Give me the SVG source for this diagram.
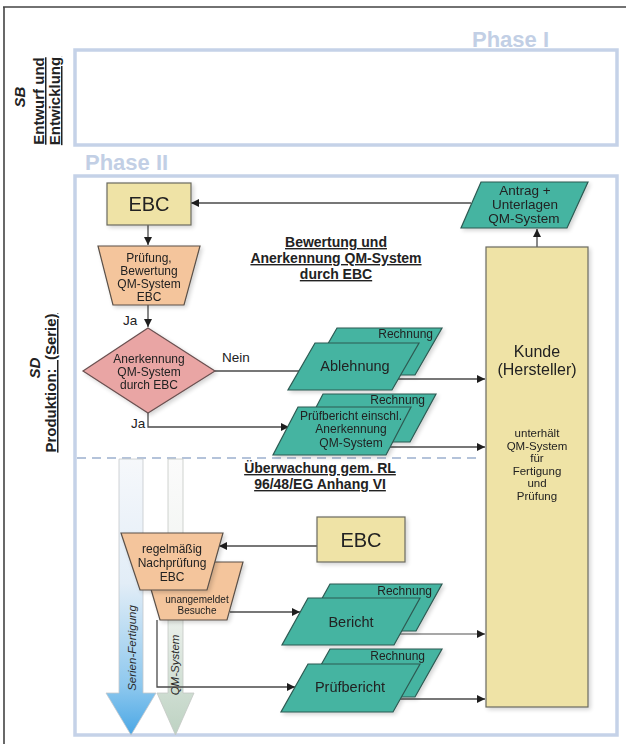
<svg xmlns="http://www.w3.org/2000/svg" width="626" height="744" viewBox="0 0 626 744">
  <style>
    text { font-family: "Liberation Sans", Arial, sans-serif; fill: #222; }
    .phase { font-size: 22px; font-weight: bold; fill: #c2cfe5; }
    .side { font-size: 15px; font-weight: bold; }
    .ul { text-decoration: underline; }
    .title { font-size: 14px; font-weight: bold; text-decoration: underline; text-anchor: middle; }
    .c { text-anchor: middle; }
    .t12 { font-size: 12px; }
    .t10 { font-size: 10px; }
    .lbl { font-size: 13.5px; }
    .big { font-size: 20px; text-anchor: middle; }
    .doc { font-size: 14.5px; text-anchor: middle; }
    .rech { font-size: 12px; text-anchor: end; }
    .frame { fill: none; stroke: #c5d2e8; stroke-width: 3.5; }
    .khaki { fill: #efe3a6; stroke: #6a6a60; stroke-width: 1.2; }
    .peach { fill: #f4c59c; stroke: #5a5048; stroke-width: 1.2; }
    .pink { fill: #e9a5a4; stroke: #6a5050; stroke-width: 1.2; }
    .teal { fill: #45b4a1; stroke: #2d5a52; stroke-width: 1.2; }
    .conn { fill: none; stroke: #4a4a4a; stroke-width: 1.3; }
    .conn-light { fill: none; stroke: #8a8a8a; stroke-width: 1.3; }
    .flow { font-size: 11.5px; font-style: italic; text-anchor: middle; fill: #2a2a2a; }
  </style>
  <defs>
    <marker id="arr" viewBox="0 0 10 10" refX="10" refY="5" markerWidth="8" markerHeight="8" markerUnits="userSpaceOnUse" orient="auto">
      <path d="M0,0 L10,5 L0,10 z" fill="#1e1e1e"/>
    </marker>
    <filter id="sh" x="-10%" y="-10%" width="130%" height="130%">
      <feGaussianBlur in="SourceAlpha" stdDeviation="2"/>
      <feOffset dx="2" dy="2"/>
      <feComponentTransfer><feFuncA type="linear" slope="0.18"/></feComponentTransfer>
      <feMerge><feMergeNode/><feMergeNode in="SourceGraphic"/></feMerge>
    </filter>
    <linearGradient id="gBlue" gradientUnits="userSpaceOnUse" x1="0" y1="459" x2="0" y2="735">
      <stop offset="0" stop-color="#f6f8fb"/>
      <stop offset="0.45" stop-color="#e2edf7"/>
      <stop offset="0.82" stop-color="#8ec8ee"/>
      <stop offset="1" stop-color="#4aa7e5"/>
    </linearGradient>
    <linearGradient id="gGreen" gradientUnits="userSpaceOnUse" x1="0" y1="459" x2="0" y2="735">
      <stop offset="0" stop-color="#fbfbfb"/>
      <stop offset="0.55" stop-color="#eef2ee"/>
      <stop offset="1" stop-color="#bdd2c2"/>
    </linearGradient>
  </defs>

  <rect width="626" height="744" fill="#ffffff"/>

  <!-- page frame -->
  <path d="M3,7 H626 M4,7 V744" fill="none" stroke="#444" stroke-width="1.6"/>

  <!-- side labels -->
  <g id="label-sb">
    <text class="side" font-style="italic" text-anchor="middle" transform="translate(25,97) rotate(-90)">SB</text>
    <text class="side ul" text-anchor="middle" transform="translate(44,101) rotate(-90)">Entwurf und</text>
    <text class="side ul" text-anchor="middle" transform="translate(60,101) rotate(-90)">Entwicklung</text>
  </g>
  <g id="label-sd">
    <text class="side" font-style="italic" text-anchor="middle" transform="translate(40,368) rotate(-90)">SD</text>
    <text class="side ul" font-size="14.5" text-anchor="middle" transform="translate(56,383) rotate(-90)" xml:space="preserve">Produktion:  (Serie)</text>
  </g>

  <!-- phase frames -->
  <g id="phase-1">
    <rect class="frame" x="75" y="50" width="542" height="95"/>
    <text class="phase" x="472" y="47">Phase I</text>
  </g>
  <g id="phase-2">
    <rect class="frame" x="75" y="176" width="542" height="559"/>
    <text class="phase" x="85" y="170">Phase II</text>
  </g>

  <!-- boundary between assessment and surveillance -->
  <line x1="77" y1="458" x2="482" y2="458" stroke="#b4c3da" stroke-width="2" stroke-dasharray="9,6"/>

  <!-- flow arrows -->
  <g id="flow-serien">
    <path d="M119,459 H143 V693 H156 L131,735 L106,693 H119 Z" fill="url(#gBlue)" stroke="#c4c8cc" stroke-width="0.8"/>
    <text class="flow" transform="translate(136,648) rotate(-90)">Serien-Fertigung</text>
  </g>
  <g id="flow-qm">
    <path d="M168,459 H183 V693 H194 L175.5,735 L157,693 H168 Z" fill="url(#gGreen)" stroke="#c4c8c4" stroke-width="0.8"/>
    <text class="flow" transform="translate(179,665) rotate(-90)">QM-System</text>
  </g>

  <!-- connectors -->
  <g id="connectors">
    <path class="conn" d="M471,203 H191" marker-end="url(#arr)"/>
    <path class="conn" d="M148,225 V245" marker-end="url(#arr)"/>
    <path class="conn" d="M148,305 V327" marker-end="url(#arr)"/>
    <path class="conn" d="M215,371 H299"/>
    <path class="conn" d="M148,413 V427 H289" marker-end="url(#arr)"/>
    <path class="conn" d="M537,247 V229" marker-end="url(#arr)"/>
    <path class="conn" d="M397,379 H485" marker-end="url(#arr)"/>
    <path class="conn" d="M390,447 H485" marker-end="url(#arr)"/>
    <path class="conn" d="M317,546 H219" marker-end="url(#arr)"/>
    <path class="conn" d="M230,612 H300" marker-end="url(#arr)"/>
    <path class="conn" d="M157,620 V687 H295" marker-end="url(#arr)"/>
    <path class="conn-light" d="M400,634 H485" marker-end="url(#arr)"/>
    <path class="conn" d="M400,699 H485" marker-end="url(#arr)"/>
  </g>

  <!-- assessment nodes -->
  <g id="ebc-top" filter="url(#sh)">
    <rect class="khaki" x="107" y="183" width="84" height="42"/>
    <text class="big" x="149" y="211">EBC</text>
  </g>
  <g id="pruefung" filter="url(#sh)">
    <path class="peach" d="M98,246 H200 L184,305 H113 Z"/>
    <text class="t12 c" x="149" y="262">Prüfung,</text>
    <text class="t12 c" x="149" y="275">Bewertung</text>
    <text class="t12 c" x="149" y="288">QM-System</text>
    <text class="t12 c" x="149" y="301">EBC</text>
  </g>
  <g id="anerkennung" filter="url(#sh)">
    <path class="pink" d="M148,328 L215,371 L148,413 L83,371 Z"/>
    <text class="t12 c" x="149" y="363">Anerkennung</text>
    <text class="t12 c" x="149" y="376">QM-System</text>
    <text class="t12 c" x="149" y="389">durch EBC</text>
  </g>
  <text class="lbl" x="123" y="325">Ja</text>
  <text class="lbl" x="222" y="362">Nein</text>
  <text class="lbl" x="131" y="428">Ja</text>

  <g id="title-bewertung">
    <text class="title" x="336" y="247">Bewertung und</text>
    <text class="title" x="336" y="263">Anerkennung QM-System</text>
    <text class="title" x="336" y="279">durch EBC</text>
  </g>

  <g id="antrag" filter="url(#sh)">
    <path class="teal" d="M481,182 H588 L567,228 H461 Z"/>
    <text class="lbl c" x="525" y="195">Antrag +</text>
    <text class="lbl c" x="525" y="209">Unterlagen</text>
    <text class="lbl c" x="524" y="223">QM-System</text>
  </g>

  <g id="kunde" filter="url(#sh)">
    <rect class="khaki" x="486" y="247" width="102" height="460"/>
    <text font-size="16" class="c" x="537" y="357">Kunde</text>
    <text font-size="16" class="c" x="537" y="375">(Hersteller)</text>
    <text font-size="11.5" class="c" x="537" y="437">unterhält</text>
    <text font-size="11.5" class="c" x="537" y="450">QM-System</text>
    <text font-size="11.5" class="c" x="537" y="462">für</text>
    <text font-size="11.5" class="c" x="537" y="475">Fertigung</text>
    <text font-size="11.5" class="c" x="537" y="487">und</text>
    <text font-size="11.5" class="c" x="537" y="500">Prüfung</text>
  </g>

  <g id="ablehnung" filter="url(#sh)">
    <path class="teal" d="M310,375 H415 L442,328 H337 Z"/>
    <text class="rech" x="433" y="338">Rechnung</text>
    <path class="teal" d="M288,390 H392 L419,343 H315 Z"/>
    <text class="doc" x="355" y="371">Ablehnung</text>
  </g>

  <g id="pruefbericht-anerkennung" filter="url(#sh)">
    <path class="teal" d="M298,442 H410 L436,394 H323 Z"/>
    <text class="rech" x="425" y="404">Rechnung</text>
    <path class="teal" d="M273,455 H386 L411,407 H298 Z"/>
    <text class="t12 c" x="351" y="420">Prüfbericht einschl.</text>
    <text class="t12 c" x="351" y="433">Anerkennung</text>
    <text class="t12 c" x="351" y="447">QM-System</text>
  </g>

  <!-- surveillance nodes -->
  <g id="title-ueberwachung">
    <text class="title" x="320" y="473">Überwachung gem. RL</text>
    <text class="title" x="320" y="489">96/48/EG Anhang VI</text>
  </g>

  <g id="ebc-bottom" filter="url(#sh)">
    <rect class="khaki" x="317" y="517" width="88" height="45"/>
    <text class="big" x="361" y="547">EBC</text>
  </g>

  <g id="besuche" filter="url(#sh)">
    <path class="peach" d="M143,562 H243 L227,620 H160 Z"/>
    <text class="t10 c" x="197" y="603">unangemeldet</text>
    <text class="t10 c" x="197" y="614">Besuche</text>
  </g>
  <g id="nachpruefung" filter="url(#sh)">
    <path class="peach" d="M121,533 H223 L207,590 H140 Z"/>
    <text class="t12 c" x="172" y="553">regelmäßig</text>
    <text class="t12 c" x="172" y="567">Nachprüfung</text>
    <text class="t12 c" x="172" y="581">EBC</text>
  </g>

  <g id="bericht" filter="url(#sh)">
    <path class="teal" d="M304,631 H416 L442,584 H330 Z"/>
    <text class="rech" x="432" y="595">Rechnung</text>
    <path class="teal" d="M282,645 H394 L420,598 H308 Z"/>
    <text class="doc" x="351" y="627">Bericht</text>
  </g>

  <g id="pruefbericht" filter="url(#sh)">
    <path class="teal" d="M303,697 H415 L442,649 H330 Z"/>
    <text class="rech" x="425" y="660">Rechnung</text>
    <path class="teal" d="M281,712 H393 L420,664 H308 Z"/>
    <text class="doc" x="350" y="692">Prüfbericht</text>
  </g>
</svg>
